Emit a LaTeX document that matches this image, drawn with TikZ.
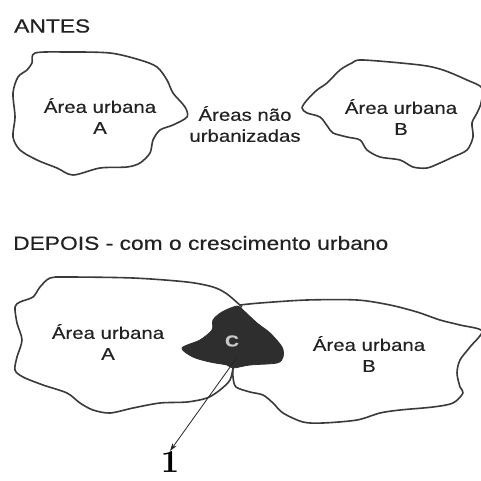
\documentclass[tikz,border=0pt]{standalone}
\usepackage{fontspec}
\setmainfont{Liberation Sans}[FakeStretch=1.2,FakeBold=0.35]
\newfontfamily\onefont{lmroman10-bold}[Extension=.otf]
\usetikzlibrary{arrows.meta}
\definecolor{outl}{HTML}{3A3A3A}
\definecolor{txt}{HTML}{222222}
\begin{document}
\begin{tikzpicture}[x=1pt,y=-1pt,
  blob/.style={draw=outl,line width=1.6pt,line join=round},
  lbl/.style={text=txt,font=\fontsize{17}{21}\selectfont,align=center,inner sep=0pt},
  ttl/.style={text=txt,font=\fontsize{19}{23}\selectfont,anchor=west,inner sep=0pt}]
\useasboundingbox[fill=white] (0,0) rectangle (481,481);

% ---------- ANTES ----------
\node[ttl] (antes) at (14,26) {ANTES};
\draw[blob] plot[smooth cycle,tension=0.5] coordinates{
 (35,53) (67,52) (110,53) (140,60) (157,67) (167,80) (173,93) (185,107) (187,117)
 (173,125) (160,130) (153,140) (150,153) (140,163) (127,167) (100,168) (73,175)
 (57,168) (37,160) (20,150) (13,137) (15,117) (13,93) (18,77) (27,70) (32,63)};
\draw[blob] plot[smooth cycle,tension=0.5] coordinates{
 (352,63) (363,60) (420,65) (443,70) (467,80) (482,88) (481,103) (477,113) (472,123)
 (473,137) (467,150) (453,157) (440,163) (427,168) (413,167) (400,160) (380,157)
 (367,150) (360,140) (347,137) (333,133) (328,127) (320,117) (307,113) (302,108)
 (307,100) (317,90) (327,83) (340,70)};
\node[lbl] (ua) at (100,116) {Área urbana\\A};
\node[lbl] (nu) at (245,124) {Áreas não\\urbanizadas};
\node[lbl] (ub) at (401,117) {Área urbana\\B};

% ---------- DEPOIS ----------
\node[ttl] (depois) at (13,243) {DEPOIS - com o crescimento urbano};
\draw[blob] plot[smooth,tension=0.5] coordinates{
 (242,307) (227,294) (213,287) (187,282) (133,278) (67,277) (50,278) (40,287)
 (33,297) (20,302) (15,307) (17,323) (22,340) (17,357) (15,370) (23,377) (43,385)
 (67,393) (80,403) (93,410) (110,413) (133,408) (160,403) (187,402) (207,398)
 (220,390) (230,380) (233,368)};
\draw[blob] plot[smooth,tension=0.5] coordinates{
 (240,305) (260,303) (307,300) (357,300) (390,305) (417,312) (440,320) (460,325)
 (482,331) (470,347) (460,360) (457,373) (460,387) (463,393) (453,403) (433,407)
 (400,410) (380,413) (357,420) (323,423) (303,422) (283,413) (273,403) (263,395)
 (250,392) (236,387) (233,377) (233,368)};
\fill[fill=black!82,draw=black!82,line width=0.8pt] plot[smooth cycle,tension=0.5] coordinates{
 (182,348) (200,340) (212,330) (213,320) (222,312) (237,306) (243,310) (257,323)
 (270,333) (282,347) (283,357) (277,363) (250,365) (233,368) (227,365) (210,362)
 (193,357)};
\node[lbl,text=black!22,font=\fontsize{16}{18}\selectfont\bfseries] (c) at (232,341) {C};
\node[lbl] (ua2) at (108,342) {Área urbana\\A};
\node[lbl] (ub2) at (369,354) {Área urbana\\B};

\coordinate (cs) at (238,356);
\node[text=black,anchor=north,inner sep=0pt] (one) at (170,451)
  {\onefont\fontsize{32}{32}\selectfont 1};
\draw[-{Stealth[length=8pt,width=5pt]},line width=0.8pt,black!85] (cs) -- (one.north);
\end{tikzpicture}
\end{document}
